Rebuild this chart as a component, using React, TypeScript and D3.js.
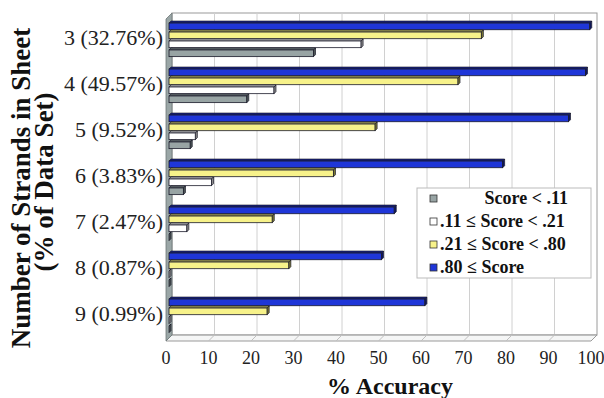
import React from "react";
import * as d3 from "d3";

const categories = ["3 (32.76%)", "4 (49.57%)", "5 (9.52%)", "6 (3.83%)", "7 (2.47%)", "8 (0.87%)", "9 (0.99%)"];
const seriesNames = ["Score < .11", ".11 \u2264 Score < .21", ".21 \u2264 Score < .80", ".80 \u2264 Score"];
const scoreLt11 = [34, 18.3, 5, 3.4, 0, 0, 0];
const score11to21 = [45.2, 24.7, 6.2, 10, 4.2, 0, 0];
const score21to80 = [73.5, 68, 48.5, 38.7, 24.3, 28.2, 23.1];
const scoreGe80 = [99, 98, 94, 78.5, 53, 50, 60.2];
const xTicks = [0, 10, 20, 30, 40, 50, 60, 70, 80, 90, 100];

const seriesValues = [scoreLt11, score11to21, score21to80, scoreGe80];
const seriesColors = [
  { front: "#98a4a4", top: "#6f7a7a", cap: "#4d5656" },
  { front: "#ffffff", top: "#c8c8c8", cap: "#8a8a8a" },
  { front: "#f7f28a", top: "#b8b35a", cap: "#7d7a35" },
  { front: "#1f36d8", top: "#14208a", cap: "#0d1660" },
];

const FONT = "Liberation Serif";

export default function App() {
  const dx = 6, dy = 6;
  const frontTop = 19, frontBottom = 341;
  const xf = d3.scaleLinear().domain([0, 100]).range([166, 591]);
  const xbar = d3.scaleLinear().domain([0, 100]).range([169, 594]);
  const yGroup = d3.scaleBand<string>().domain(categories).range([16, 338]).paddingInner(0.22).paddingOuter(0.11);
  const order = [3, 2, 1, 0];
  const yInner = d3.scaleBand<number>().domain(order).range([0, yGroup.bandwidth()]);
  const d = 2;

  const backL = xf(0) + dx, backR = xf(100) + dx, backT = frontTop - dy, backB = frontBottom - dy;

  return (
    <svg width={604} height={398} style={{ position: "absolute", left: 0, top: 0, background: "#fff" }}>
      <rect x={backL} y={backT} width={backR - backL} height={backB - backT} fill="#ffffff" stroke="#9a9a9a" strokeWidth={1} />
      {xTicks.slice(1, -1).map((t) => (
        <line key={t} x1={xf(t) + dx} x2={xf(t) + dx} y1={backT} y2={backB} stroke="#d0d0d0" strokeWidth={1} />
      ))}
      <path d={`M${xf(0)},${frontBottom} L${backL},${backB} L${backR},${backB} L${xf(100)},${frontBottom} Z`} fill="#eef0f0" fillOpacity={0.6} stroke="#9a9a9a" strokeWidth={1} />
      {xTicks.slice(1, -1).map((t) => (
        <line key={"f" + t} x1={xf(t) + dx} x2={xf(t)} y1={backB} y2={frontBottom} stroke="#c0c0c0" strokeWidth={1} />
      ))}
      <path d={`M${xf(0)},${frontTop} L${backL},${backT} L${backL},${backB} L${xf(0)},${frontBottom} Z`} fill="#9aa6a6" stroke="#6d7777" strokeWidth={0.8} />
      {categories.map((c, ci) => (
        <g key={c}>
          {order.map((si) => {
            const v = seriesValues[si][ci];
            const y = (yGroup(c) as number) + (yInner(si) as number);
            const h = yInner.bandwidth() - 0.3;
            const x0 = xbar(0);
            const x1 = xbar(v);
            const col = seriesColors[si];
            return (
              <g key={si}>
                <path d={`M${x0},${y + d} L${x0 + d},${y} L${x1 + d},${y} L${x1},${y + d} Z`} fill={col.top} stroke="#1a1a2a" strokeWidth={0.7} />
                <rect x={x0} y={y + d} width={Math.max(0, x1 - x0)} height={h - d} fill={col.front} stroke="#1a1a2a" strokeWidth={0.8} />
                <path d={`M${x1},${y + d} L${x1 + d},${y} L${x1 + d},${y + h - d} L${x1},${y + h} Z`} fill={col.cap} stroke="#1a1a2a" strokeWidth={0.7} />
              </g>
            );
          })}
        </g>
      ))}
      {categories.map((c) => (
        <text key={c} x={163} y={(yGroup(c) as number) + yGroup.bandwidth() / 2 + 1} textAnchor="end" dominantBaseline="middle" fontFamily={FONT} fontSize={22} fill="#222">
          {c}
        </text>
      ))}
      {xTicks.map((t) => (
        <text key={t} x={xf(t)} y={364} textAnchor="middle" fontFamily={FONT} fontSize={18} fill="#222">
          {t}
        </text>
      ))}
      <text x={390} y={394} textAnchor="middle" fontFamily={FONT} fontSize={24} fontWeight="bold" fill="#111">
        % Accuracy
      </text>
      <text transform="translate(30,188) rotate(-90)" textAnchor="middle" fontFamily={FONT} fontSize={27} fontWeight="bold" fill="#111">
        Number of Strands in Sheet
      </text>
      <text transform="translate(53,182) rotate(-90)" textAnchor="middle" fontFamily={FONT} fontSize={27} fontWeight="bold" fill="#111">
        (% of Data Set)
      </text>
      <rect x={417} y={188} width={174} height={90} fill="#ffffff" stroke="#bbbbbb" strokeWidth={1} />
      {seriesNames.map((name, i) => {
        const cy = 199 + i * 23;
        return (
          <g key={name}>
            <rect x={430} y={cy - 4} width={7} height={7} fill={seriesColors[i].front} stroke="#333" strokeWidth={0.8} />
            <text x={i === 0 ? 568 : 440} y={cy + 1} textAnchor={i === 0 ? "end" : "start"} dominantBaseline="middle" fontFamily={FONT} fontSize={18} fontWeight="bold" fill="#111">
              {name}
            </text>
          </g>
        );
      })}
    </svg>
  );
}
